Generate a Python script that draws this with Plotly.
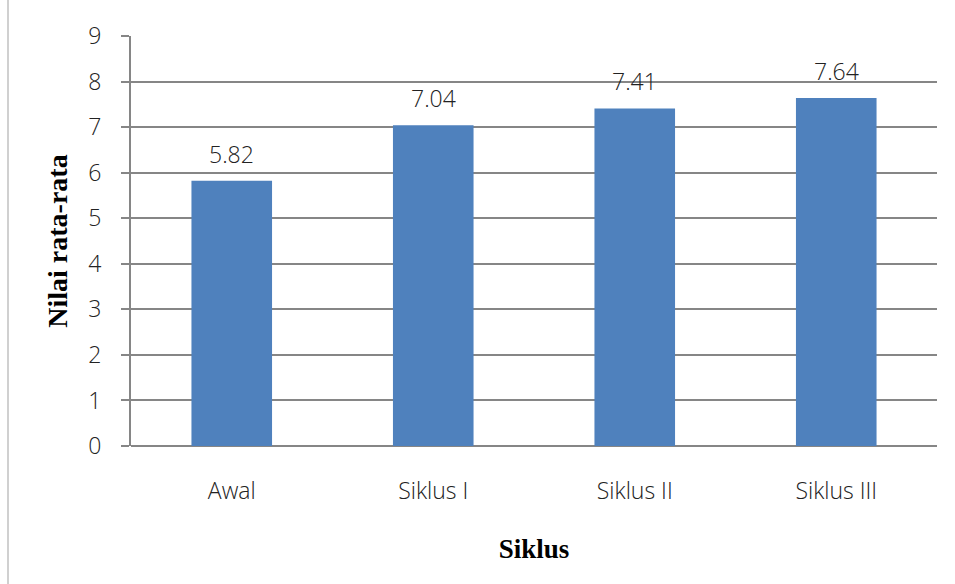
import plotly.graph_objects as go

categories = ["Awal", "Siklus I", "Siklus II", "Siklus III"]
values = [5.82, 7.04, 7.41, 7.64]
y_ticks = list(range(0, 10))

bar_color = "#4F81BD"
grid_color = "#868686"
text_font = "Open Sans"
label_font = dict(family=text_font, size=23, color="#222222", weight=300)

fig = go.Figure(
    go.Bar(
        x=categories,
        y=values,
        marker=dict(color=bar_color, line=dict(width=0)),
        hoverinfo="x+y",
    )
)

# value labels above each bar
for cat, val in zip(categories, values):
    fig.add_annotation(
        x=cat,
        y=val,
        text=f"{val:.2f}",
        showarrow=False,
        yanchor="middle",
        yshift=27,
        font=label_font,
    )

fig.update_layout(
    width=955,
    height=584,
    margin=dict(l=131, r=18, t=36, b=138),
    paper_bgcolor="white",
    plot_bgcolor="white",
    bargap=0.6,
    showlegend=False,
    xaxis=dict(
        showline=False,
        showgrid=False,
        ticks="",
        tickfont=label_font,
        ticklabelstandoff=29,
        title=dict(
            text="<b>Siklus</b>",
            font=dict(family="Liberation Serif", size=27, color="black"),
            standoff=34,
        ),
    ),
    yaxis=dict(
        range=[0, 9],
        tickvals=y_ticks,
        showline=True,
        linecolor=grid_color,
        linewidth=2,
        showgrid=True,
        gridcolor=grid_color,
        gridwidth=1.5,
        zeroline=True,
        zerolinecolor=grid_color,
        zerolinewidth=2,
        ticks="outside",
        ticklen=8,
        tickwidth=1.5,
        tickcolor=grid_color,
        tickfont=label_font,
        ticklabelstandoff=15,
        title=dict(
            text="<b>Nilai rata-rata</b>",
            font=dict(family="Liberation Serif", size=28, color="black"),
            standoff=12,
        ),
    ),
    shapes=[
        dict(
            type="line",
            xref="paper",
            yref="paper",
            x0=-123 / 806,
            x1=-123 / 806,
            y0=-138 / 410,
            y1=1 + 36 / 410,
            line=dict(color="#D0D0D0", width=2),
        )
    ],
)

fig.write_html("out.html")
